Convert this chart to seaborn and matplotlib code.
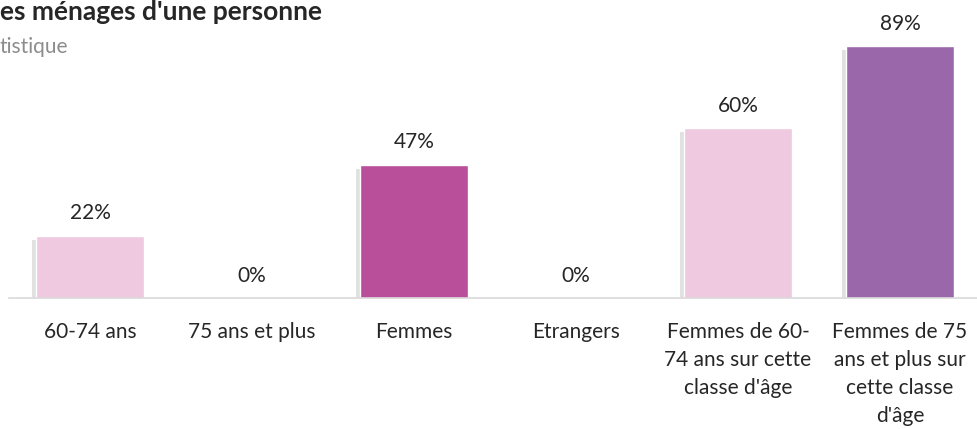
import matplotlib
matplotlib.use("Agg")
import matplotlib.pyplot as plt
import matplotlib.patheffects as pe
import seaborn as sns

# données
categories = ["60-74 ans", "75 ans et plus", "Femmes", "Etrangers",
              "Femmes de 60-74 ans sur cette classe d'âge",
              "Femmes de 75 ans et plus sur cette classe d'âge"]
values = [22, 0, 47, 0, 60, 89]
tick_labels = ["60-74 ans", "75 ans et plus", "Femmes", "Etrangers",
               "Femmes de 60-\n74 ans sur cette\nclasse d'âge",
               "Femmes de 75\nans et plus sur\ncette classe\nd'âge"]
colors = ["#EFC9E0", "#EFC9E0", "#B94E9A", "#B94E9A", "#EFC9E0", "#9B67AB"]

sns.set_style("white")
plt.rcParams['font.family'] = ['Lato', 'DejaVu Sans']

fig = plt.figure(figsize=(9.77, 4.29), dpi=100)
ax = fig.add_axes([9 / 977, 131 / 429, 972 / 977, 283 / 429])

sns.barplot(x=categories, y=values, hue=categories, palette=colors,
            legend=False, width=0.67, ax=ax, saturation=1)

for bar in ax.patches:
    bar.set_path_effects([pe.SimplePatchShadow(offset=(-3, -3), shadow_rgbFace="#8a8a8a", alpha=0.25),
                          pe.Normal()])

for i, v in enumerate(values):
    ax.annotate(f"{v}%", (i, v), xytext=(0, 9), textcoords="offset points",
                ha="center", va="bottom", fontsize=15, color="#262626")

ax.set_ylim(0, 100)
ax.set_xlim(-0.5, 5.5)
ax.set_yticks([])
ax.set_xticks(range(len(tick_labels)))
ax.set_xticklabels(tick_labels, fontsize=15, color="#262626", linespacing=1.5)
ax.tick_params(axis="x", length=0, pad=17)
ax.set_ylabel("")
for s in ["top", "right", "left"]:
    ax.spines[s].set_visible(False)
ax.spines["bottom"].set_color("#D9D9D9")
ax.spines["bottom"].set_linewidth(1.2)

fig.text(0.0, 0.972, "es ménages d'une personne", fontsize=19, fontweight="bold",
         color="#262626", ha="left", va="center")
fig.text(0.0, 0.89, "tistique", fontsize=15, color="#8C8C8C", ha="left", va="center")

fig.savefig("out.png", dpi=100)
